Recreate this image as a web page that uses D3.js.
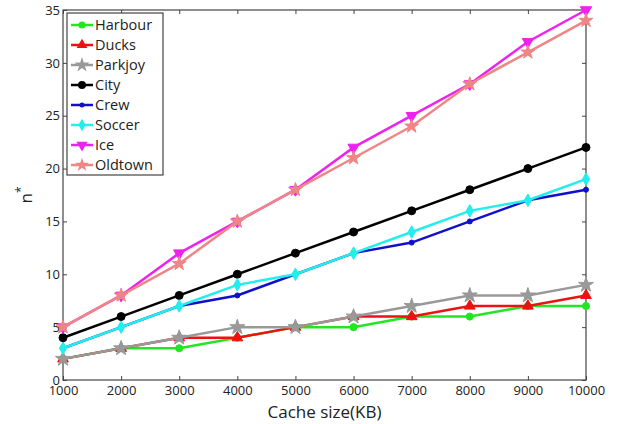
<!DOCTYPE html>
<html>
<head>
<meta charset="utf-8">
<script src="https://cdn.jsdelivr.net/npm/d3@7"></script>
<style>
body { margin: 0; background: #fff; }
svg text { font-family: "Open Sans", "Liberation Sans", sans-serif; fill: #222; }
.axis line, .axis path { stroke: #444; }
</style>
</head>
<body>
<div id="chart"></div>
<script>
var cacheSizes = [1000, 2000, 3000, 4000, 5000, 6000, 7000, 8000, 9000, 10000];
var seriesNames = ["Harbour", "Ducks", "Parkjoy", "City", "Crew", "Soccer", "Ice", "Oldtown"];
var harbour = [2, 3, 3, 4, 5, 5, 6, 6, 7, 7];
var ducks   = [2, 3, 4, 4, 5, 6, 6, 7, 7, 8];
var parkjoy = [2, 3, 4, 5, 5, 6, 7, 8, 8, 9];
var city    = [4, 6, 8, 10, 12, 14, 16, 18, 20, 22];
var crew    = [3, 5, 7, 8, 10, 12, 13, 15, 17, 18];
var soccer  = [3, 5, 7, 9, 10, 12, 14, 16, 17, 19];
var ice     = [5, 8, 12, 15, 18, 22, 25, 28, 32, 35];
var oldtown = [5, 8, 11, 15, 18, 21, 24, 28, 31, 34];
var yTicks = [0, 5, 10, 15, 20, 25, 30, 35];

var seriesValues = [harbour, ducks, parkjoy, city, crew, soccer, ice, oldtown];
var colors = ["#22e622", "#ee1111", "#999999", "#000000", "#1010cc", "#22eeee", "#ee22ee", "#f08585"];
var symbols = [d3.symbolCircle, d3.symbolTriangle, d3.symbolStar, d3.symbolCircle,
               d3.symbolCircle, d3.symbolDiamond, d3.symbolTriangle, d3.symbolStar];
var symSizes = [40, 50, 70, 50, 20, 45, 55, 60];
var rotations = [0, 0, 0, 0, 0, 0, 180, 0];

var margin = {top: 10, right: 39, bottom: 44, left: 63};
var width = 625 - margin.left - margin.right;
var height = 424 - margin.top - margin.bottom;

var svg = d3.select("#chart").append("svg")
    .attr("width", 625)
    .attr("height", 424)
  .append("g")
    .attr("transform", "translate(" + margin.left + "," + margin.top + ")");

var x = d3.scaleLinear().domain([1000, 10000]).range([0, width]);
var y = d3.scaleLinear().domain([0, 35]).range([height, 0]);

// frame
svg.append("rect")
    .attr("width", width).attr("height", height)
    .attr("fill", "none").attr("stroke", "#444").attr("stroke-width", 1.2);

// ticks inward on all sides
svg.append("g").attr("class", "axis")
    .attr("transform", "translate(0," + height + ")")
    .call(d3.axisBottom(x).tickValues(cacheSizes).tickSizeInner(-4).tickSizeOuter(0).tickPadding(6).tickFormat(d3.format("d")))
    .call(function(g) { g.select(".domain").remove(); });
svg.append("g").attr("class", "axis")
    .call(d3.axisTop(x).tickValues(cacheSizes).tickSizeInner(-4).tickSizeOuter(0).tickFormat(""))
    .call(function(g) { g.select(".domain").remove(); });
svg.append("g").attr("class", "axis")
    .call(d3.axisLeft(y).tickValues(yTicks).tickSizeInner(-4).tickSizeOuter(0).tickPadding(3))
    .call(function(g) { g.select(".domain").remove(); });
svg.append("g").attr("class", "axis")
    .attr("transform", "translate(" + width + ",0)")
    .call(d3.axisRight(y).tickValues(yTicks).tickSizeInner(-4).tickSizeOuter(0).tickFormat(""))
    .call(function(g) { g.select(".domain").remove(); });

svg.selectAll(".axis text").style("font-size", "13px");

// lines
var line = d3.line()
    .x(function(d, i) { return x(cacheSizes[i]); })
    .y(function(d) { return y(d); });

seriesValues.forEach(function(vals, s) {
    svg.append("path")
        .datum(vals)
        .attr("fill", "none")
        .attr("stroke", colors[s])
        .attr("stroke-width", 2.5)
        .attr("d", line);
    svg.selectAll(".m" + s)
        .data(vals)
      .enter().append("path")
        .attr("class", "m" + s)
        .attr("d", d3.symbol().type(symbols[s]).size(symSizes[s]))
        .attr("fill", colors[s])
        .attr("stroke", colors[s])
        .attr("transform", function(d, i) {
            return "translate(" + x(cacheSizes[i]) + "," + y(d) + ") rotate(" + rotations[s] + ")";
        });
});

// legend
var legend = svg.append("g").attr("transform", "translate(4,3)");
legend.append("rect")
    .attr("width", 96).attr("height", 162)
    .attr("fill", "#fff").attr("stroke", "#444").attr("stroke-width", 1.2);
seriesNames.forEach(function(name, s) {
    var ly = 12 + s * 20;
    legend.append("line")
        .attr("x1", 4).attr("x2", 26).attr("y1", ly).attr("y2", ly)
        .attr("stroke", colors[s]).attr("stroke-width", 2.5);
    legend.append("path")
        .attr("d", d3.symbol().type(symbols[s]).size(symSizes[s]))
        .attr("fill", colors[s])
        .attr("transform", "translate(15," + ly + ") rotate(" + rotations[s] + ")");
    legend.append("text")
        .attr("x", 28).attr("y", ly + 5)
        .style("font-size", "14.5px")
        .text(name);
});

// axis labels
svg.append("text")
    .attr("x", width / 2).attr("y", height + 38)
    .style("text-anchor", "middle")
    .style("font-size", "17px")
    .text("Cache size(KB)");

var yl = svg.append("text")
    .attr("transform", "translate(-31," + (height / 2) + ") rotate(-90)")
    .style("text-anchor", "middle")
    .style("font-size", "17px");
yl.append("tspan").text("n");
yl.append("tspan").attr("dy", -7).style("font-size", "12px").text("*");
</script>
</body>
</html>
